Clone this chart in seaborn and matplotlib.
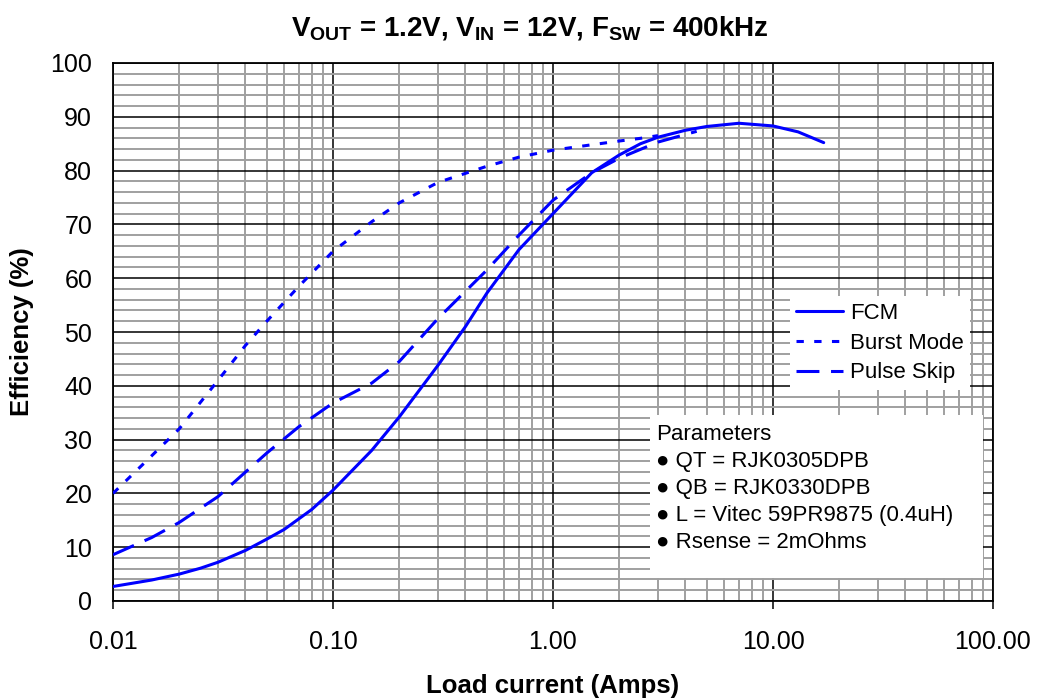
import numpy as np
import pandas as pd
import matplotlib
matplotlib.use('Agg')
import matplotlib.pyplot as plt
import seaborn as sns
from matplotlib.ticker import FixedLocator, NullFormatter
from matplotlib.lines import Line2D
from matplotlib.patches import Rectangle

# values
fcm_amps = [0.01, 0.015, 0.02, 0.025, 0.03, 0.04, 0.05, 0.06, 0.08, 0.1, 0.15, 0.2, 0.3,
            0.4, 0.5, 0.7, 1.0, 1.5, 2.0, 2.5, 3.0, 4.0, 5.0, 7.0, 10.0, 13.0, 17.0]
fcm_eff = [2.7, 3.9, 5.0, 6.1, 7.2, 9.4, 11.5, 13.3, 17.0, 20.6, 28.0, 34.2, 43.8,
           51.0, 57.2, 65.3, 72.0, 79.6, 82.9, 85.0, 86.2, 87.5, 88.2, 88.8, 88.3, 87.2, 85.2]

burst_amps = [0.01, 0.015, 0.02, 0.03, 0.04, 0.05, 0.07, 0.1, 0.15, 0.2, 0.3,
              0.5, 0.7, 1.0, 1.5, 2.0, 2.5, 3.0]
burst_eff = [20.0, 27.0, 32.0, 41.0, 47.5, 52.0, 58.5, 65.0, 70.5, 74.0, 77.8,
             80.8, 82.5, 83.8, 84.8, 85.5, 86.0, 86.5]

skip_amps = [0.01, 0.015, 0.02, 0.03, 0.05, 0.07, 0.1, 0.15, 0.2, 0.3, 0.5,
             0.7, 1.0, 1.5, 2.0, 3.0, 4.5]
skip_eff = [8.6, 11.8, 14.6, 19.4, 27.5, 32.4, 36.8, 40.5, 44.5, 52.5, 61.5,
            68.0, 74.5, 79.6, 82.3, 85.3, 87.3]

modes = ['FCM', 'Burst Mode', 'Pulse Skip']
param_lines = ['Parameters', '\u25cf QT = RJK0305DPB', '\u25cf QB = RJK0330DPB',
               '\u25cf L = Vitec 59PR9875 (0.4uH)', '\u25cf Rsense = 2mOhms']
x_ticks = [0.01, 0.1, 1, 10, 100]
x_labels = ['0.01', '0.10', '1.00', '10.00', '100.00']
y_ticks = list(range(0, 101, 10))

df = pd.concat([
    pd.DataFrame({'amps': fcm_amps, 'eff': fcm_eff, 'mode': modes[0]}),
    pd.DataFrame({'amps': burst_amps, 'eff': burst_eff, 'mode': modes[1]}),
    pd.DataFrame({'amps': skip_amps, 'eff': skip_eff, 'mode': modes[2]}),
], ignore_index=True)

sns.set_style('white')
plt.rcParams['font.family'] = ['Liberation Sans', 'DejaVu Sans']
plt.rcParams['text.color'] = 'black'
plt.rcParams['axes.labelcolor'] = 'black'
plt.rcParams['mathtext.fontset'] = 'custom'
plt.rcParams['mathtext.rm'] = 'Liberation Sans'
plt.rcParams['mathtext.bf'] = 'Liberation Sans:bold'

fig = plt.figure(figsize=(10.39, 7.0), dpi=100)
ax = fig.add_axes([113 / 1039, 99 / 700, 880 / 1039, 538 / 700])

dash_map = {'FCM': '', 'Burst Mode': (2.4, 3.4), 'Pulse Skip': (7.5, 3.8)}
sns.lineplot(data=df, x='amps', y='eff', style='mode', dashes=dash_map,
             color='#0000ff', linewidth=2.2, ax=ax, legend=False, zorder=5)

ax.set_xscale('log')
ax.set_xlim(0.01, 100)
ax.set_ylim(0, 100)
ax.set_xticks(x_ticks)
ax.set_xticklabels(x_labels)
ax.xaxis.set_minor_locator(FixedLocator(
    [m * d for d in [0.01, 0.1, 1, 10] for m in range(2, 10)]))
ax.xaxis.set_minor_formatter(NullFormatter())
ax.set_yticks(y_ticks)
ax.yaxis.set_minor_locator(FixedLocator([v for v in range(0, 101, 2) if v % 10]))

ax.grid(which='minor', color='#a0a0a0', linewidth=1.4, zorder=0)
ax.grid(which='major', color='black', linewidth=1.1, zorder=1)
ax.set_axisbelow(True)
ax.tick_params(axis='x', which='major', direction='out', length=6, width=1.1,
               labelsize=18, colors='black', bottom=True, pad=15)
ax.tick_params(axis='y', which='major', length=0, labelsize=18,
               colors='black', pad=15)
ax.tick_params(which='minor', length=0)
for s in ax.spines.values():
    s.set_color('black')
    s.set_linewidth(1.3)

ax.set_xlabel('Load current (Amps)', fontsize=18.5, fontweight='bold', labelpad=14)
ax.set_ylabel('Efficiency (%)', fontsize=18.5, fontweight='bold', labelpad=12)
ax.set_title(r'V$_\mathbf{OUT}$ = 1.2V, V$_\mathbf{IN}$ = 12V, F$_\mathbf{SW}$ = 400kHz',
             fontsize=20, fontweight='bold', pad=19, x=0.474)

handles = [Line2D([], [], color='#0000ff', lw=2.2,
                  linestyle=(0, dash_map[m]) if dash_map[m] else '-')
           for m in modes]
leg = ax.legend(handles, modes, loc='upper left', bbox_to_anchor=(0.769, 0.567),
                frameon=True, fontsize=16, handlelength=2.1, handletextpad=0.3,
                borderpad=0.3, labelspacing=0.4, borderaxespad=0, fancybox=False,
                labelcolor='black')
leg.get_frame().set_edgecolor('none')
leg.get_frame().set_facecolor('white')
leg.get_frame().set_alpha(1)
leg.set_zorder(10)

ax.add_patch(Rectangle((0.610, 0.043), 0.379, 0.303, transform=ax.transAxes,
                       facecolor='white', edgecolor='none', zorder=8))
ax.text(0.617, 0.329, '\n'.join(param_lines), transform=ax.transAxes, color='black',
        fontsize=16, va='top', ha='left', linespacing=1.38, zorder=9)

fig.savefig('out.png', dpi=100)
